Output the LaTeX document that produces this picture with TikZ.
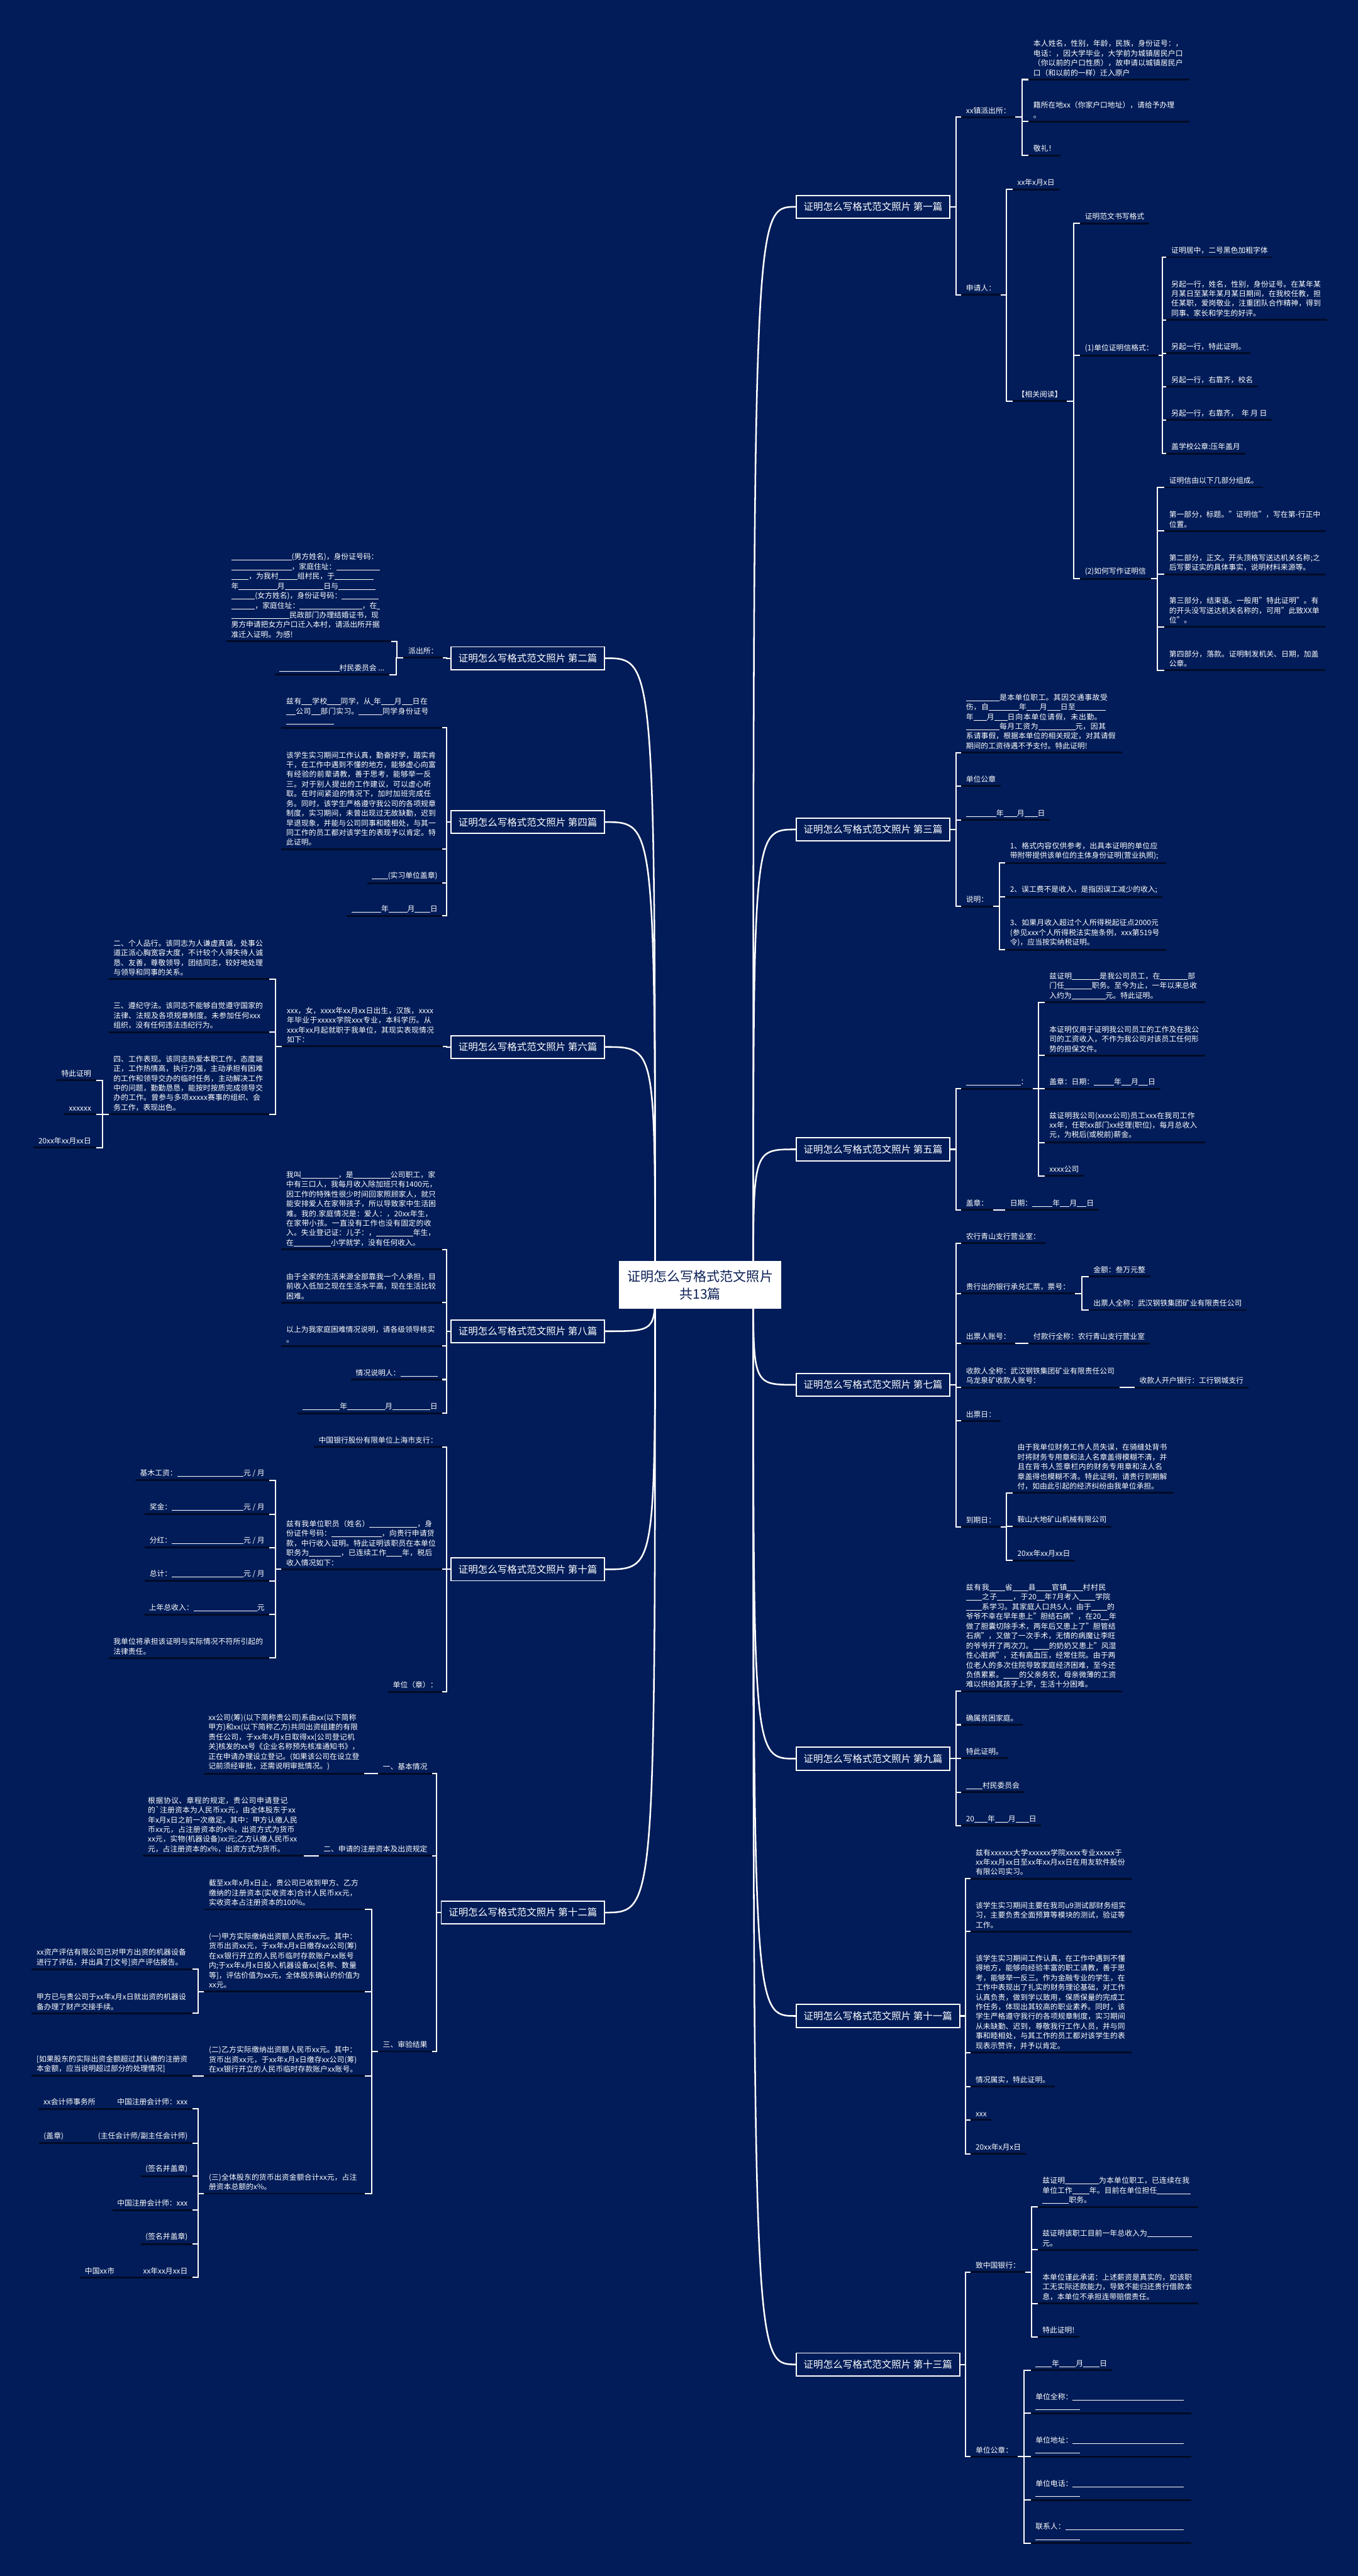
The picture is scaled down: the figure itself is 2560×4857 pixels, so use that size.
\documentclass[tikz,border=0pt]{standalone}
\usepackage{fontspec}
\setmainfont{Noto Sans CJK SC}
\usetikzlibrary{calc}
\XeTeXlinebreaklocale "zh"
\XeTeXlinebreakskip=0pt plus 1pt
\definecolor{bg}{HTML}{011C58}
\definecolor{ul}{HTML}{000B26}
\definecolor{ttl}{HTML}{0B1F55}
\newcommand\bk[1]{\allowbreak\rule[-1.5pt]{#1pt}{0.9pt}\allowbreak}
\newcommand\cn[2]{\draw[conn] (#1) -- ($(#1)!0.5!(#1-|#2)$) |- (#2);}
\newcommand\fanR[2]{\foreach \c in {#2}{\cn{#1}{\c.south west}}}
\newcommand\fanL[2]{\foreach \c in {#2}{\cn{#1}{\c.south east}}}
\tikzset{
  uline/.style={draw=ul, line width=3.5pt},
  conn/.style={draw=white, line width=2.4pt},
  curve/.style={draw=white, line width=3pt},
  leafbase/.style={font=\fontsize{14}{18.3}\selectfont, text=white, inner xsep=9pt, inner ysep=6pt,
    append after command={(\tikzlastnode.south west) edge[uline] (\tikzlastnode.south east)}},
  R/.style={leafbase, anchor=south west},
  L/.style={leafbase, anchor=south east},
  Rw/.style={R, text width=285pt, align=left},
  Lw/.style={L, text width=285pt, align=left},
  branch/.style={draw=white, line width=2.2pt, fill=bg, text=white, font=\fontsize{18.4}{22}\selectfont, inner xsep=14pt, minimum height=43pt},
  branchR/.style={branch, anchor=west},
  branchL/.style={branch, anchor=east},
  title/.style={fill=white, text=ttl, font=\fontsize{25}{33}\selectfont, align=center, minimum width=306pt, minimum height=90pt, inner sep=4pt}
}
\begin{document}
\begin{tikzpicture}[x=1pt,y=-1pt]
\useasboundingbox (0,0) rectangle (2560,4857);
\fill[bg] (0,0) rectangle (2560,4857);

% ---------- branch boxes ----------
\node[branchR] (b1) at (1500,390) {证明怎么写格式范文照片 第一篇};
\node[branchR] (b3) at (1500,1564) {证明怎么写格式范文照片 第三篇};
\node[branchR] (b5) at (1500,2167) {证明怎么写格式范文照片 第五篇};
\node[branchR] (b7) at (1500,2611) {证明怎么写格式范文照片 第七篇};
\node[branchR] (b9) at (1500,3316) {证明怎么写格式范文照片 第九篇};
\node[branchR] (b11) at (1500,3801) {证明怎么写格式范文照片 第十一篇};
\node[branchR] (b13) at (1500,4458) {证明怎么写格式范文照片 第十三篇};
\node[branchL] (b2) at (1141,1241) {证明怎么写格式范文照片 第二篇};
\node[branchL] (b4) at (1141,1550) {证明怎么写格式范文照片 第四篇};
\node[branchL] (b6) at (1141,1974) {证明怎么写格式范文照片 第六篇};
\node[branchL] (b8) at (1141,2510) {证明怎么写格式范文照片 第八篇};
\node[branchL] (b10) at (1141,2959) {证明怎么写格式范文照片 第十篇};
\node[branchL] (b12) at (1141,3606) {证明怎么写格式范文照片 第十二篇};

% ---------- curves from root ----------
\coordinate (tr) at (1420,2423);
\coordinate (tl) at (1235,2423);
\foreach \b in {b1,b3,b5,b7,b9,b11,b13}{\draw[curve] (tr) .. controls (tr|-\b.west) .. (\b.west);}
\foreach \b in {b2,b4,b6,b8,b10,b12}{\draw[curve] (tl) .. controls (tl|-\b.east) .. (\b.east);}
\node[title] (T) at (1320,2423) {证明怎么写格式范文照片\\共13篇};

% ---------- branch 1 ----------
\node[R] (n1a) at (1812,221) {xx镇派出所：};
\node[R] (n1b) at (1812,556) {申请人：};
\node[Rw] (n1a1) at (1939,150) {本人姓名，性别，年龄，民族，身份证号：，电话：，因大学毕业，大学前为城镇居民户口（你以前的户口性质），故申请以城镇居民户口（和以前的一样）迁入原户};
\node[Rw] (n1a2) at (1939,229) {籍所在地xx（你家户口地址），请给予办理\\。};
\node[R] (n1a3) at (1939,293) {敬礼！};
\node[R] (n1b1) at (1909,357) {xx年x月x日};
\node[R] (n1b2) at (1909,756) {【相关阅读】};
\node[R] (n1c1) at (2036,421) {证明范文书写格式};
\node[R] (n1c2) at (2036,670) {(1)单位证明信格式：};
\node[R] (n1c3) at (2036,1091) {(2)如何写作证明信};
\node[R] (n1d1) at (2199,485) {证明居中，二号黑色加粗字体};
\node[Rw] (n1d2) at (2199,603) {另起一行，姓名，性别，身份证号。在某年某月某日至某年某月某日期间，在我校任教，担任某职，爱岗敬业，注重团队合作精神，得到同事、家长和学生的好评。};
\node[R] (n1d3) at (2199,666) {另起一行，特此证明。};
\node[R] (n1d4) at (2199,729) {另起一行，右靠齐，校名};
\node[R] (n1d5) at (2199,792) {另起一行，右靠齐，\ \ 年\ 月\ 日};
\node[R] (n1d6) at (2199,855) {盖学校公章:压年盖月};
\node[R] (n1e1) at (2195,919) {证明信由以下几部分组成。};
\node[Rw] (n1e2) at (2195,1001) {第一部分，标题。"证明信"，写在第-行正中位置。};
\node[Rw] (n1e3) at (2195,1083) {第二部分，正文。开头顶格写送达机关名称;之后写要证实的具体事实，说明材料来源等。};
\node[Rw] (n1e4) at (2195,1182) {第三部分，结束语。一般用"特此证明"。有的开头没写送达机关名称的，可用"此致XX单位"。};
\node[Rw] (n1e5) at (2195,1264) {第四部分，落款。证明制发机关、日期，加盖公章。};
\fanR{b1.east}{n1a,n1b}
\fanR{n1a.south east}{n1a1,n1a2,n1a3}
\fanR{n1b.south east}{n1b1,n1b2}
\fanR{n1b2.south east}{n1c1,n1c2,n1c3}
\fanR{n1c2.south east}{n1d1,n1d2,n1d3,n1d4,n1d5,n1d6}
\fanR{n1c3.south east}{n1e1,n1e2,n1e3,n1e4,n1e5}

% ---------- branch 3 ----------
\node[Rw] (n3a) at (1812,1419) {\bk{63}是本单位职工。其因交通事故受伤，自\bk{57}年\bk{25}月\bk{25}日至\bk{57}年\bk{25}月\bk{25}日向本单位请假，未出勤。\bk{63}每月工资为\bk{70}元，因其系请事假，根据本单位的相关规定，对其请假期间的工资待遇不予支付。特此证明!};
\node[R] (n3b) at (1812,1482) {单位公章};
\node[R] (n3c) at (1812,1546) {\bk{57}年\bk{25}月\bk{25}日};
\node[R] (n3d) at (1812,1709) {说明：};
\node[Rw] (n3d1) at (1895,1627) {1、格式内容仅供参考，出具本证明的单位应带附带提供该单位的主体身份证明(营业执照);};
\node[R] (n3d2) at (1895,1691) {2、误工费不是收入，是指因误工减少的收入;};
\node[Rw] (n3d3) at (1895,1791) {3、如果月收入超过个人所得税起征点2000元(参见xxx个人所得税法实施条例，xxx第519号令)，应当按实纳税证明。};
\fanR{b3.east}{n3a,n3b,n3c,n3d}
\fanR{n3d.south east}{n3d1,n3d2,n3d3}

% ---------- branch 5 ----------
\node[R] (n5a) at (1812,2053) {\bk{103}：};
\node[Rw] (n5a1) at (1969,1890) {兹证明\bk{52}是我公司员工，在\bk{52}部门任\bk{52}职务。至今为止，一年以来总收入约为\bk{64}元。特此证明。};
\node[Rw] (n5a2) at (1969,1990) {本证明仅用于证明我公司员工的工作及在我公司的工资收入，不作为我公司对该员工任何形势的担保文件。};
\node[R] (n5a3) at (1969,2053) {盖章：日期：\bk{38}年\bk{18}月\bk{18}日};
\node[Rw] (n5a4) at (1969,2154) {兹证明我公司(xxxx公司)员工xxx在我司工作xx年，任职xx部门xx经理(职位)，每月总收入元，为税后(或税前)薪金。};
\node[R] (n5a5) at (1969,2217) {xxxx公司};
\node[R] (n5b) at (1812,2281) {盖章：};
\node[R] (n5b1) at (1895,2281) {日期：\bk{38}年\bk{18}月\bk{18}日};
\fanR{b5.east}{n5a,n5b}
\fanR{n5a.south east}{n5a1,n5a2,n5a3,n5a4,n5a5}
\fanR{n5b.south east}{n5b1}

% ---------- branch 7 ----------
\node[R] (n7a) at (1812,2344) {农行青山支行营业室：};
\node[R] (n7b) at (1812,2439) {贵行出的银行承兑汇票，票号：};
\node[R] (n7b1) at (2052,2407) {金额：叁万元整};
\node[R] (n7b2) at (2052,2470) {出票人全称：武汉钢铁集团矿业有限责任公司};
\node[R] (n7c) at (1812,2533) {出票人账号：};
\node[R] (n7c1) at (1939,2533) {付款行全称：农行青山支行营业室};
\node[R, align=left] (n7d) at (1812,2616) {收款人全称：武汉钢铁集团矿业有限责任公司\\乌龙泉矿收款人账号：};
\node[R] (n7d1) at (2139,2616) {收款人开户银行：工行钢城支行};
\node[R] (n7e) at (1812,2679) {出票日：};
\node[R] (n7f) at (1812,2879) {到期日：};
\node[Rw] (n7f1) at (1909,2815) {由于我单位财务工作人员失误，在骑缝处背书时将财务专用章和法人名章盖得模糊不清，并且在背书人签章栏内的财务专用章和法人名章盖得也模糊不清。特此证明，请贵行到期解付，如由此引起的经济纠纷由我单位承担。};
\node[R] (n7f2) at (1909,2878) {鞍山大地矿山机械有限公司};
\node[R] (n7f3) at (1909,2942) {20xx年xx月xx日};
\fanR{b7.east}{n7a,n7b,n7c,n7d,n7e,n7f}
\fanR{n7b.south east}{n7b1,n7b2}
\fanR{n7c.south east}{n7c1}
\fanR{n7d.south east}{n7d1}
\fanR{n7f.south east}{n7f1,n7f2,n7f3}

% ---------- branch 9 ----------
\node[Rw] (n9a) at (1812,3189) {兹有我\bk{30}省\bk{30}县\bk{30}官镇\bk{30}村村民\bk{30}之子\bk{30}，于20\bk{15}年7月考入\bk{30}学院\bk{30}系学习。其家庭人口共5人，由于\bk{30}的爷爷不幸在早年患上"胆结石病"，在20\bk{15}年做了胆囊切除手术，两年后又患上了"胆管结石病"，又做了一次手术，无情的病魔让李旺的爷爷开了两次刀。\bk{30}的奶奶又患上"风湿性心脏病"，还有高血压，经常住院。由于两位老人的多次住院导致家庭经济困难，至今还负债累累。\bk{30}的父亲务农，母亲微薄的工资难以供给其孩子上学，生活十分困难。};
\node[R] (n9b) at (1812,3252) {确属贫困家庭。};
\node[R] (n9c) at (1812,3315) {特此证明。};
\node[R] (n9d) at (1812,3379) {\bk{31}村民委员会};
\node[R] (n9e) at (1812,3442) {20\bk{25}年\bk{25}月\bk{25}日};
\fanR{b9.east}{n9a,n9b,n9c,n9d,n9e}

% ---------- branch 11 ----------
\node[Rw] (n11a) at (1830,3542) {兹有xxxxxx大学xxxxxx学院xxxx专业xxxxx于xx年xx月xx日至xx年xx月xx日在用友软件股份有限公司实习。};
\node[Rw] (n11b) at (1830,3642) {该学生实习期间主要在我司u9测试部财务组实习，主要负责全面预算等模块的测试，验证等工作。};
\node[Rw] (n11c) at (1830,3870) {该学生实习期间工作认真，在工作中遇到不懂得地方，能够向经验丰富的职工请教，善于思考，能够举一反三。作为金融专业的学生，在工作中表现出了扎实的财务理论基础，对工作认真负责，做到学以致用，保质保量的完成工作任务，体现出其较高的职业素养。同时，该学生严格遵守我行的各项规章制度，实习期间从未缺勤、迟到，尊敬我行工作人员，并与同事和睦相处，与其工作的员工都对该学生的表现表示赞许，并予以肯定。};
\node[R] (n11d) at (1830,3934) {情况属实，特此证明。};
\node[R] (n11e) at (1830,3997) {xxx};
\node[R] (n11f) at (1830,4061) {20xx年x月x日};
\fanR{b11.east}{n11a,n11b,n11c,n11d,n11e,n11f}

% ---------- branch 13 ----------
\node[R] (n13a) at (1830,4284) {致中国银行：};
\node[Rw] (n13a1) at (1956,4161) {兹证明\bk{64}为本单位职工，已连续在我单位工作\bk{32}年。目前在单位担任\bk{64}\bk{50}职务。};
\node[Rw] (n13a2) at (1956,4242) {兹证明该职工目前一年总收入为\bk{84}元。};
\node[Rw] (n13a3) at (1956,4343) {本单位谨此承诺：上述薪资是真实的，如该职工无实际还款能力，导致不能归还贵行借款本息，本单位不承担连带赔偿责任。};
\node[R] (n13a4) at (1956,4406) {特此证明!};
\node[R] (n13b) at (1830,4632) {单位公章：};
\node[R] (n13b1) at (1943,4469) {\bk{31}年\bk{31}月\bk{31}日};
\node[Rw] (n13b2) at (1943,4550) {单位全称：\bk{210}\\\bk{84}};
\node[Rw] (n13b3) at (1943,4632) {单位地址：\bk{210}\\\bk{84}};
\node[Rw] (n13b4) at (1943,4714) {单位电话：\bk{210}\\\bk{84}};
\node[Rw] (n13b5) at (1943,4795) {联系人：\bk{224}\\\bk{84}};
\fanR{b13.east}{n13a,n13b}
\fanR{n13a.south east}{n13a1,n13a2,n13a3,n13a4}
\fanR{n13b.south east}{n13b1,n13b2,n13b3,n13b4,n13b5}

% ---------- branch 2 ----------
\node[L] (n2a) at (835,1240) {派出所：};
\node[L, text width=292pt, align=left] (n2a1) at (737,1209) {\bk{114}(男方姓名)，身份证号码：\\\bk{114}，家庭住址：\bk{82}\\\bk{33}，为我村\bk{36}组村民，于\bk{73}\\年\bk{73}月\bk{73}日与\bk{70}\\\bk{45}(女方姓名)，身份证号码：\bk{70}\\\bk{45}，家庭住址：\bk{118}，在\bk{5}\\\bk{110}民政部门办理结婚证书，现\\男方申请把女方户口迁入本村，请派出所开据\\准迁入证明。为感!};
\node[L] (n2a2) at (734,1272) {\bk{113}村民委员会 ...};
\fanL{b2.west}{n2a}
\fanL{n2a.south west}{n2a1,n2a2}

% ---------- branch 4 ----------
\node[Lw] (n4a) at (834,1372) {兹有\bk{20}学校\bk{25}同学，从\bk{5}年\bk{25}月\bk{20}日在\bk{18}公司\bk{18}部门实习。\bk{45}同学身份证号\bk{90}};
\node[Lw] (n4b) at (834,1601) {该学生实习期间工作认真，勤奋好学，踏实肯干，在工作中遇到不懂的地方，能够虚心向富有经验的前辈请教，善于思考，能够举一反三。对于别人提出的工作建议，可以虚心听取。在时间紧迫的情况下，加时加班完成任务。同时，该学生严格遵守我公司的各项规章制度，实习期间，未曾出现过无故缺勤，迟到早退现象，并能与公司同事和睦相处，与其一同工作的员工都对该学生的表现予以肯定。特此证明。};
\node[L] (n4c) at (834,1665) {\bk{30}(实习单位盖章)};
\node[L] (n4d) at (834,1727) {\bk{56}年\bk{35}月\bk{29}日};
\fanL{b4.west}{n4a,n4b,n4c,n4d}

% ---------- branch 6 ----------
\node[Lw] (n6a) at (835,1973) {xxx，女，xxxx年xx月xx日出生，汉族，xxxx年毕业于xxxxx学院xxx专业，本科学历。从xxx年xx月起就职于我单位，其现实表现情况如下：};
\node[Lw] (n6a1) at (508,1846) {二、个人品行。该同志为人谦虚真诚，处事公道正派心胸宽容大度，不计较个人得失待人诚恳、友善，尊敬领导，团结同志，较好地处理与领导和同事的关系。};
\node[Lw] (n6a2) at (508,1946) {三、遵纪守法。该同志不能够自觉遵守国家的法律、法规及各项规章制度。未参加任何xxx组织，没有任何违法违纪行为。};
\node[Lw] (n6a3) at (508,2101) {四、工作表现。该同志热爱本职工作，态度端正，工作热情高，执行力强，主动承担有困难的工作和领导交办的临时任务，主动解决工作中的问题，勤勤恳恳，能按时按质完成领导交办的工作。曾参与多项xxxxx赛事的组织、会务工作，表现出色。};
\node[L] (n6b1) at (181,2037) {特此证明};
\node[L] (n6b2) at (181,2101) {xxxxxx};
\node[L] (n6b3) at (181,2164) {20xx年xx月xx日};
\fanL{b6.west}{n6a}
\fanL{n6a.south west}{n6a1,n6a2,n6a3}
\fanL{n6a3.south west}{n6b1,n6b2,n6b3}

% ---------- branch 8 ----------
\node[Lw] (n8a) at (834,2356) {我叫\bk{70}，是\bk{70}公司职工，家中有三口人，我每月收入除加班只有1400元，因工作的特殊性很少时间回家照顾家人，就只能安排爱人在家带孩子，所以导致家中生活困难。我的.家庭情况是：爱人：，20xx年生，在家带小孩。一直没有工作也没有固定的收入。失业登记证：儿子：，\bk{70}年生，在\bk{70}小学就学，没有任何收入。};
\node[Lw] (n8b) at (834,2456) {由于全家的生活来源全部靠我一个人承担，目前收入低加之现在生活水平高，现在生活比较困难。};
\node[Lw] (n8c) at (834,2538) {以上为我家庭困难情况说明，请各级领导核实\\。};
\node[L] (n8d) at (834,2601) {情况说明人：\bk{70}};
\node[L] (n8e) at (834,2665) {\bk{71}年\bk{71}月\bk{71}日};
\fanL{b8.west}{n8a,n8b,n8c,n8d,n8e}

% ---------- branch 10 ----------
\node[L] (n10a) at (834,2728) {中国银行股份有限单位上海市支行：};
\node[Lw] (n10b) at (834,2959) {兹有我单位职员（姓名）\bk{78}\bk{12}，身份证件号码：\bk{90}\bk{5}，向贵行申请贷款，中行收入证明。特此证明该职员在本单位职务为\bk{60}，已连续工作\bk{30}年，税后收入情况如下：};
\node[L] (n10b1) at (508,2791) {基木工资：\bk{125}元 / 月};
\node[L] (n10b2) at (508,2855) {奖金：\bk{135}元 / 月};
\node[L] (n10b3) at (508,2918) {分红：\bk{135}元 / 月};
\node[L] (n10b4) at (508,2981) {总计：\bk{135}元 / 月};
\node[L] (n10b5) at (508,3044) {上年总收入：\bk{120}元};
\node[Lw] (n10b6) at (508,3126) {我单位将承担该证明与实际情况不符所引起的法律责任。};
\node[L] (n10c) at (834,3190) {单位（章）：};
\fanL{b10.west}{n10a,n10b,n10c}
\fanL{n10b.south west}{n10b1,n10b2,n10b3,n10b4,n10b5,n10b6}

% ---------- branch 12 ----------
\node[L] (n12a) at (815,3344) {一、基本情况};
\node[Lw] (n12a1) at (687,3344) {xx公司(筹)(以下简称贵公司)系由xx(以下简称甲方)和xx(以下简称乙方)共同出资组建的有限责任公司，于xx年x月x日取得xx[公司登记机关]核发的xx号《企业名称预先核准通知书》，正在申请办理设立登记。(如果该公司在设立登记前须经审批，还需说明审批情况。)};
\node[L] (n12b) at (815,3499) {二、申请的注册资本及出资规定};
\node[Lw] (n12b1) at (573,3499) {根据协议、章程的规定，贵公司申请登记的\textasciigrave 注册资本为人民币xx元，由全体股东于xx年x月x日之前一次缴足。其中：甲方认缴人民币xx元，占注册资本的x\%，出资方式为货币xx元，实物(机器设备)xx元;乙方认缴人民币xx元，占注册资本的x\%，出资方式为货币。};
\node[L] (n12c) at (815,3868) {三、审验结果};
\node[Lw] (n12c1) at (688,3600) {截至xx年x月x日止，贵公司已收到甲方、乙方缴纳的注册资本(实收资本)合计人民币xx元，实收资本占注册资本的100\%。};
\node[Lw] (n12c2) at (688,3755) {(一)甲方实际缴纳出资额人民币xx元。其中：货币出资xx元，于xx年x月x日缴存xx公司(筹)在xx银行开立的人民币临时存款账户xx账号内;于xx年x月x日投入机器设备xx[名称、数量等]，评估价值为xx元，全体股东确认的价值为xx元。};
\node[Lw] (n12c3) at (688,3914) {(二)乙方实际缴纳出资额人民币xx元。其中：货币出资xx元，于xx年x月x日缴存xx公司(筹)在xx银行开立的人民币临时存款账户xx账号。};
\node[Lw] (n12c4) at (688,4136) {(三)全体股东的货币出资金额合计xx元，占注册资本总额的x\%。};
\node[Lw] (n12d1) at (363,3713) {xx资产评估有限公司已对甲方出资的机器设备进行了评估，并出具了[文号]资产评估报告。};
\node[Lw] (n12d2) at (363,3796) {甲方已与贵公司于xx年x月x日就出资的机器设备办理了财产交接手续。};
\node[Lw] (n12e1) at (363,3914) {[如果股东的实际出资金额超过其认缴的注册资本金额，应当说明超过部分的处理情况]};
\node[L] (n12f1) at (363,3976) {xx会计师事务所\hspace{41pt}中国注册会计师：xxx};
\node[L] (n12f2) at (363,4041) {(盖章)\hspace{65pt}(主任会计师/副主任会计师)};
\node[L] (n12f3) at (363,4103) {(签名并盖章)};
\node[L] (n12f4) at (363,4167) {中国注册会计师：xxx};
\node[L] (n12f5) at (363,4231) {(签名并盖章)};
\node[L] (n12f6) at (363,4294) {中国xx市\hspace{54pt}xx年xx月xx日};
\fanL{b12.west}{n12a,n12b,n12c}
\fanL{n12a.south west}{n12a1}
\fanL{n12b.south west}{n12b1}
\fanL{n12c.south west}{n12c1,n12c2,n12c3,n12c4}
\fanL{n12c2.south west}{n12d1,n12d2}
\fanL{n12c3.south west}{n12e1}
\fanL{n12c4.south west}{n12f1,n12f2,n12f3,n12f4,n12f5,n12f6}
\end{tikzpicture}
\end{document}
